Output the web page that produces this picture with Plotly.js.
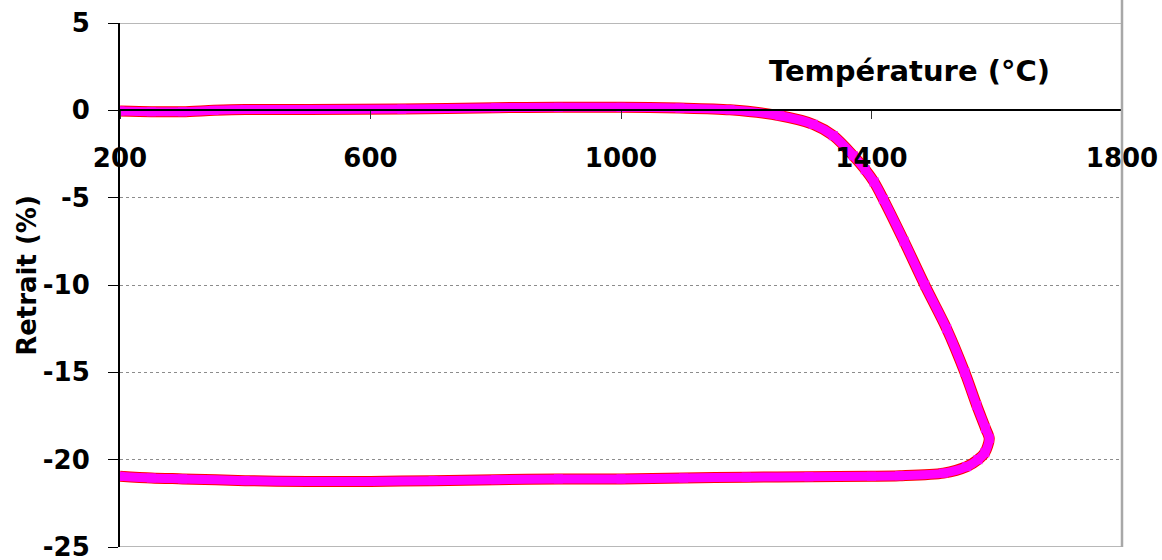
<!DOCTYPE html>
<html>
<head>
<meta charset="utf-8">
<script src="https://cdn.plot.ly/plotly-3.0.1.min.js"></script>
<style>
  html, body { margin: 0; padding: 0; background: #fff; }
  #chart { width: 1162px; height: 560px; }
</style>
</head>
<body>
<div id="chart"></div>
<script>
// Dilatometric shrinkage curve: heating branch then cooling branch
const temperature = [
  200, 250, 300, 350, 400, 500, 650, 800, 900, 1000, 1094, 1174,
  1254, 1307, 1339, 1371, 1390, 1404, 1419, 1452, 1485, 1520,
  1549, 1568, 1582, 1588,
  1581, 1570, 1552, 1515, 1445, 1400, 1300, 1200, 1100, 1000,
  900, 800, 700, 600, 500, 400, 300, 250, 200
];
const retrait = [
  -0.04, -0.08, -0.08, 0.0, 0.05, 0.05, 0.07, 0.15, 0.17, 0.17, 0.13, 0.03,
  -0.31, -0.8, -1.45, -2.6, -3.4, -4.1, -5.1, -7.5, -10.0, -12.5,
  -15.0, -16.9, -18.2, -18.8,
  -19.6, -20.0, -20.4, -20.77, -20.92, -20.95, -20.98, -21.0, -21.05, -21.1,
  -21.1, -21.15, -21.2, -21.25, -21.25, -21.2, -21.1, -21.05, -20.95
];
const xTicks = [200, 600, 1000, 1400, 1800];
const yTicks = [5, 0, -5, -10, -15, -20, -25];

const FONT = 'DejaVu Sans, Arial, sans-serif';

const traces = [
  {
    x: temperature, y: retrait, type: 'scatter', mode: 'lines',
    line: { color: '#ff0000', width: 11, shape: 'spline', smoothing: 0.8 },
    hoverinfo: 'skip', showlegend: false
  },
  {
    x: temperature, y: retrait, type: 'scatter', mode: 'lines+markers',
    line: { color: '#ff00ff', width: 9, shape: 'spline', smoothing: 0.8 },
    marker: { symbol: 'square', size: 9, color: '#ff00ff' },
    showlegend: false
  }
];

const layout = {
  width: 1162, height: 560,
  margin: { l: 120, r: 40, t: 23, b: 13 },
  paper_bgcolor: '#ffffff', plot_bgcolor: '#ffffff',
  showlegend: false,
  xaxis: {
    range: [200, 1800],
    tickvals: xTicks,
    ticktext: xTicks.map(String),
    anchor: 'free', position: 25 / 30,
    showline: true, linecolor: '#000000', linewidth: 2,
    ticks: 'outside', ticklen: 8, tickwidth: 1, tickcolor: '#333333',
    ticklabelstandoff: 16,
    ticklabeloverflow: 'allow',
    showgrid: false, zeroline: false,
    tickfont: { family: FONT, size: 26, color: '#000000', weight: 'bold' }
  },
  yaxis: {
    range: [-25, 5],
    tickvals: yTicks,
    ticktext: yTicks.map(String),
    showline: true, linecolor: '#000000', linewidth: 2,
    ticks: 'outside', ticklen: 10, tickwidth: 1, tickcolor: '#000000',
    ticklabelstandoff: 13,
    ticklabeloverflow: 'allow',
    showgrid: true, gridcolor: '#8c8c8c', gridwidth: 1, griddash: 'dot',
    zeroline: false,
    tickfont: { family: FONT, size: 26, color: '#000000', weight: 'bold' }
  },
  shapes: [
    { type: 'line', xref: 'paper', yref: 'y', x0: 0, x1: 1, y0: 5, y1: 5,
      line: { color: '#a0a0a0', width: 1.5 } },
    { type: 'line', xref: 'paper', yref: 'y', x0: 0, x1: 1, y0: -25, y1: -25,
      line: { color: '#a0a0a0', width: 1.5 } },
    { type: 'line', xref: 'paper', yref: 'paper', x0: 1, x1: 1, y0: 0, y1: 1.05,
      line: { color: '#a8a8a8', width: 2.5 } }
  ],
  annotations: [
    { text: 'Température (°C)', xref: 'paper', yref: 'paper', x: 0.788, y: 0.908,
      xanchor: 'center', yanchor: 'middle', showarrow: false,
      font: { family: FONT, size: 29, color: '#000000', weight: 'bold' } },
    { text: 'Retrait (%)', xref: 'paper', yref: 'paper', x: -0.093, y: 0.519,
      xanchor: 'center', yanchor: 'middle', showarrow: false, textangle: -90,
      font: { family: FONT, size: 26, color: '#000000', weight: 'bold' } }
  ]
};

Plotly.newPlot('chart', traces, layout, { displayModeBar: false, staticPlot: true });
</script>
</body>
</html>
